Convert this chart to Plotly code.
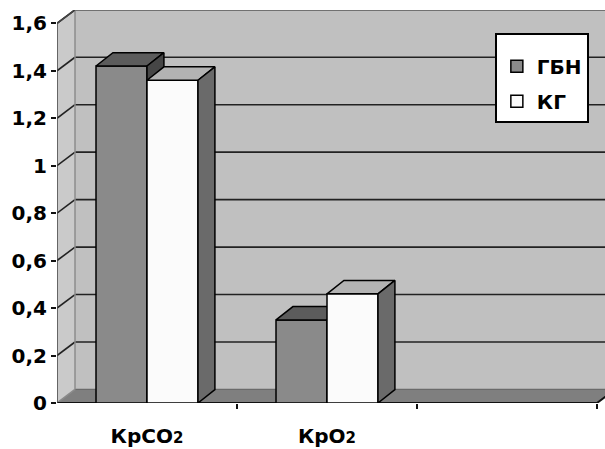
import plotly.graph_objects as go

# Data
categories = ["КрCO<span style='font-size:15px'>2</span>", "КрO<span style='font-size:15px'>2</span>"]
series_names = ["ГБН", "КГ"]
gbn_values = [1.42, 0.35]
kg_values = [1.36, 0.46]
y_ticks = [0, 0.2, 0.4, 0.6, 0.8, 1.0, 1.2, 1.4, 1.6]
y_tick_labels = ["0", "0,2", "0,4", "0,6", "0,8", "1", "1,2", "1,4", "1,6"]

# Geometry of the pseudo-3D box (in axis units)
X_MIN, X_MAX = -0.5, -0.5 + 548 / 180
Y_MAX = 393 / 237.3
WALL_DX, WALL_DY = 0.1, 0.057
BAR_DX, BAR_DY = 0.094, 0.0565
BAR_W = 0.2833
N_SLOTS = 3

FONT = dict(family="DejaVu Sans", size=20, color="black", weight="bold")

COLORS = {
    "ГБН": dict(front="#8a8a8a", top="#5c5c5c", side="#464646"),
    "КГ": dict(front="#fbfbfb", top="#b3b3b3", side="#6a6a6a"),
}


def faces(values, offset):
    """Top and side polygons for a row of bars, from their values."""
    tx, ty, sx, sy = [], [], [], []
    for i, v in enumerate(values):
        x0 = i + offset
        x1 = x0 + BAR_W
        tx += [x0, x1, x1 + BAR_DX, x0 + BAR_DX, x0, None]
        ty += [v, v, v + BAR_DY, v + BAR_DY, v, None]
        sx += [x1, x1 + BAR_DX, x1 + BAR_DX, x1, x1, None]
        sy += [0, BAR_DY, v + BAR_DY, v, 0, None]
    return (tx, ty), (sx, sy)


fig = go.Figure()
xs = list(range(len(categories)))

for name, vals, offset, xa, ya in [
    ("ГБН", gbn_values, -BAR_W, "x", "y"),
    ("КГ", kg_values, 0.0, "x2", "y2"),
]:
    c = COLORS[name]
    fig.add_trace(go.Bar(
        x=xs, y=vals, name=name, width=BAR_W, offset=offset,
        marker=dict(color=c["front"], line=dict(color="black", width=1.5)),
        xaxis=xa, yaxis=ya, legendgroup=name,
    ))
    (tx, ty), (sx, sy) = faces(vals, offset)
    fig.add_trace(go.Scatter(
        x=tx, y=ty, mode="lines", fill="toself", fillcolor=c["top"],
        line=dict(color="black", width=1.5), showlegend=False,
        hoverinfo="skip", xaxis=xa, yaxis=ya,
    ))
    fig.add_trace(go.Scatter(
        x=sx, y=sy, mode="lines", fill="toself", fillcolor=c["side"],
        line=dict(color="black", width=1.5), showlegend=False,
        hoverinfo="skip", xaxis=xa, yaxis=ya,
    ))

shapes = []
x_end = X_MIN + N_SLOTS
# back wall
shapes.append(dict(type="rect", xref="x", yref="y", layer="below",
                   x0=X_MIN + WALL_DX, x1=X_MAX + 1, y0=WALL_DY, y1=Y_MAX + 1,
                   fillcolor="#c0c0c0", line=dict(width=0)))
# side wall
shapes.append(dict(type="path", xref="x", yref="y", layer="below",
                   path=f"M{X_MIN},0 L{X_MIN},{y_ticks[-1]} L{X_MIN + WALL_DX},{y_ticks[-1] + WALL_DY} "
                        f"L{X_MIN + WALL_DX},{WALL_DY} Z",
                   fillcolor="#cacaca", line=dict(width=0)))
# floor
shapes.append(dict(type="path", xref="x", yref="y", layer="below",
                   path=f"M{X_MIN},0 L{x_end},0 L{x_end + WALL_DX},{WALL_DY} "
                        f"L{X_MIN + WALL_DX},{WALL_DY} Z",
                   fillcolor="#7f7f7f", line=dict(width=0)))
# gridlines on back wall and side wall
for v in y_ticks:
    col = "#8a8a8a" if v == 0 else "#222222"
    if v > 0:
        shapes.append(dict(type="line", xref="x", yref="y", layer="below",
                           x0=X_MIN + WALL_DX, x1=X_MAX + 1, y0=v + WALL_DY, y1=v + WALL_DY,
                           line=dict(color=col, width=1.6)))
    else:
        shapes.append(dict(type="line", xref="x", yref="y", layer="below",
                           x0=X_MIN + WALL_DX, x1=x_end + WALL_DX, y0=WALL_DY, y1=WALL_DY,
                           line=dict(color="#6a6a6a", width=1.2)))
    shapes.append(dict(type="line", xref="x", yref="y", layer="below",
                       x0=X_MIN, x1=X_MIN + WALL_DX, y0=v, y1=v + WALL_DY,
                       line=dict(color=col, width=1.6)))
# back wall left edge
shapes.append(dict(type="line", xref="x", yref="y", layer="below",
                   x0=X_MIN + WALL_DX, x1=X_MIN + WALL_DX, y0=WALL_DY, y1=Y_MAX + 1,
                   line=dict(color="#8c8c8c", width=1.5)))
# front axes
shapes.append(dict(type="path", xref="x", yref="y", layer="below",
                   path=f"M{X_MIN},0 L{x_end},0 L{x_end + WALL_DX},{WALL_DY}",
                   line=dict(color="#111111", width=2)))
shapes.append(dict(type="path", xref="x", yref="y", layer="below",
                   path=f"M{X_MIN},0 L{X_MIN},{y_ticks[-1]} L{X_MIN + WALL_DX},{y_ticks[-1] + WALL_DY}",
                   line=dict(color="#444444", width=1.5)))

fig.update_layout(
    width=605, height=449,
    margin=dict(l=57, r=0, t=10, b=46, autoexpand=False),
    paper_bgcolor="white", plot_bgcolor="white",
    shapes=shapes,
    showlegend=True,
    legend=dict(
        x=0.799, y=0.9415, xanchor="left", yanchor="top",
        bgcolor="white", bordercolor="black", borderwidth=2,
        font=FONT, tracegroupgap=6,
        title=dict(text=" ", font=dict(family="DejaVu Sans", size=9)),
    ),
    xaxis=dict(
        range=[X_MIN, X_MAX], tickvals=xs, ticktext=categories,
        ticks="", showgrid=False, zeroline=False, showline=False,
        tickfont=FONT, ticklabelstandoff=19, automargin=False,
    ),
    xaxis2=dict(
        range=[X_MIN, X_MAX], overlaying="x", side="bottom",
        tickvals=[X_MIN + k for k in range(1, N_SLOTS + 1)],
        ticks="outside", ticklen=5, tickwidth=2, tickcolor="#111111",
        showticklabels=False, showgrid=False, zeroline=False, showline=False,
        automargin=False,
    ),
    yaxis=dict(
        range=[0, Y_MAX], tickvals=y_ticks, ticktext=y_tick_labels,
        ticks="outside", ticklen=5, tickwidth=1.5, tickcolor="#111111",
        showgrid=False, zeroline=False, showline=False, tickfont=FONT,
        automargin=False,
    ),
    yaxis2=dict(
        range=[0, Y_MAX], overlaying="y", visible=False,
        showgrid=False, zeroline=False, automargin=False,
    ),
)

fig.write_html("out.html")
